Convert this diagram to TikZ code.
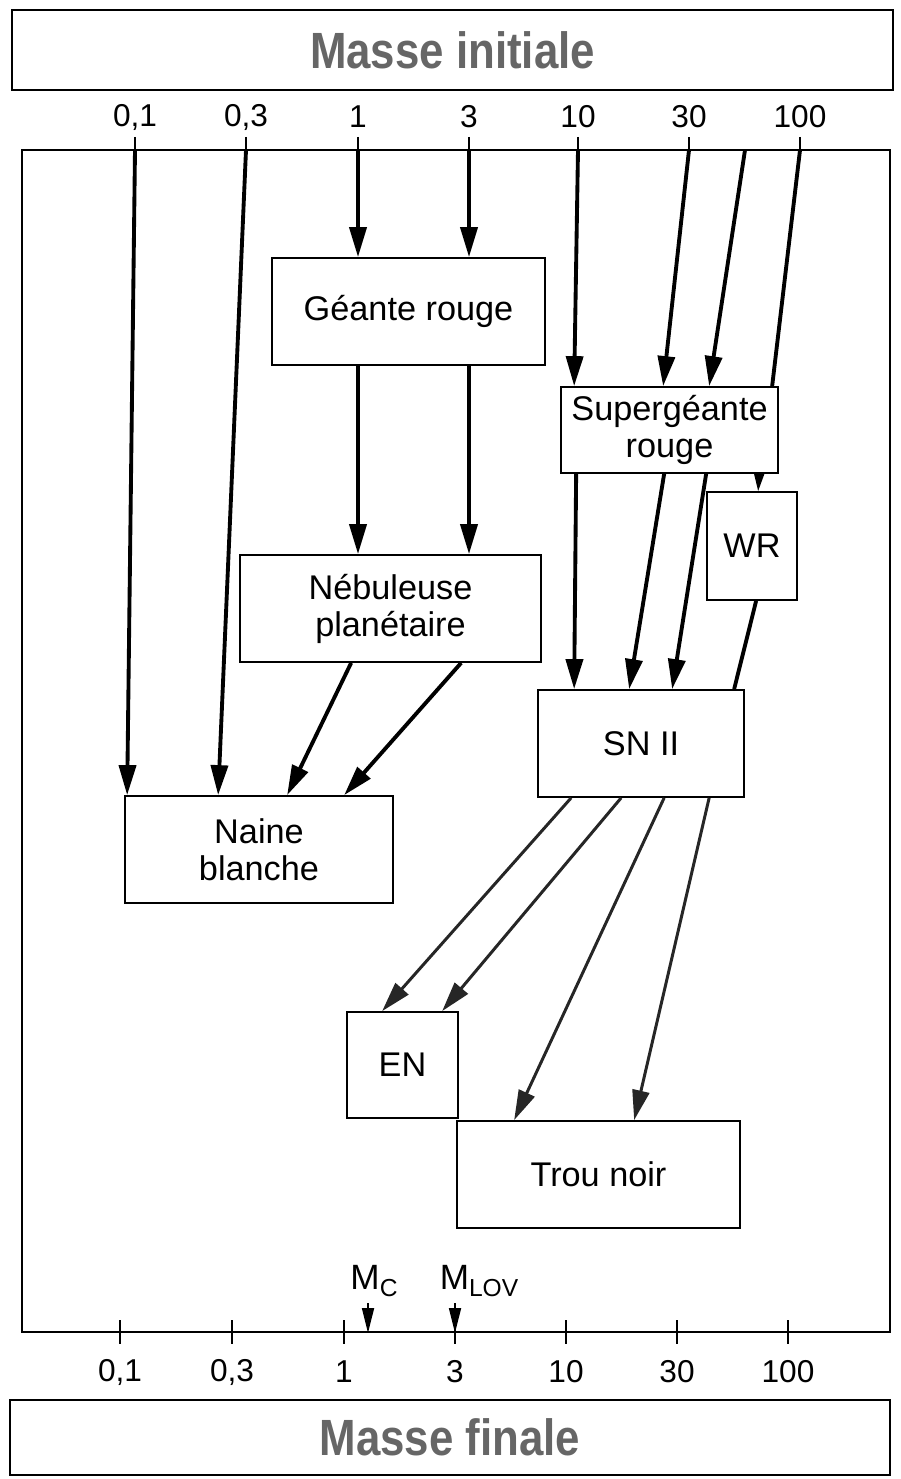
\documentclass[tikz,border=0pt]{standalone}
\usepackage{fontspec}
\usepackage{graphicx}
\setmainfont{Liberation Sans}
\usetikzlibrary{arrows.meta, positioning, calc}
\newcommand{\lowsub}[1]{\raisebox{-0.35ex}{\fontsize{14}{16}\selectfont #1}}
\tikzset{box/.style={draw, line width=1pt, inner sep=0pt, align=center, font=\fontsize{19.5}{21}\selectfont},
  boxsize/.style 2 args={minimum width=#1cm, minimum height=#2cm},
  titlebox/.style={draw, line width=1pt, inner sep=0pt, font=\fontsize{29}{32}\selectfont\bfseries, text=black!60},
  axislabel/.style={inner sep=0pt, font=\fontsize{18}{20}\selectfont},
  limitlabel/.style={inner sep=0pt, font=\fontsize{20}{22}\selectfont},
  tick/.style={line width=0.8pt},
  flow/.style={line width=2.2pt, -{Triangle[length=6mm, width=3.4mm]}},
  thinflow/.style={line width=1.7pt, draw=black!85, fill=black!85, -{Triangle[length=6mm, width=3.4mm]}},
  plain/.style={line width=2.2pt},
  smallflow/.style={line width=1pt, -{Triangle[length=5mm, width=2.4mm]}},
  tinyflow/.style={line width=1pt, -{Triangle[length=3.5mm, width=2mm]}}}

\begin{document}
\begin{tikzpicture}[x=0.02cm, y=-0.02cm]
	\useasboundingbox (0,0) rectangle (901,1479);
	% titles
	\node[titlebox, boxsize={17.62}{1.6}] (initiale) at (452.5,50) {\scalebox{0.86}[1]{Masse initiale}};
	\node[titlebox, boxsize={17.6}{1.5}] (finale) at (450,1437.5) {\scalebox{0.86}[1]{Masse finale}};
	% axes
	\draw[line width=1pt] (22,150) rectangle (890,1332);
	\foreach \x/\lab [count=\i] in {135/{0,1}, 246/{0,3}, 358/1, 469/3, 578/10, 689/30, 800/100} {
		\draw[tick] (\x,137) -- (\x,156);
		\coordinate (mi\i) at (\x,150);
		\node[axislabel] (li\i) at (\x,117) {\lab};
	}
	\coordinate (mi8) at (745,150);
	\foreach \x/\lab [count=\i] in {120/{0,1}, 232/{0,3}, 344/1, 455/3, 566/10, 677/30, 788/100} {
		\draw[tick] (\x,1320) -- (\x,1344);
		\node[axislabel] (lf\i) at (\x,1372) {\lab};
	}
	% stades
	\node[box, boxsize={5.46}{2.14}] (geante) at (408.5,311.5) {Géante rouge};
	\node[box, boxsize={4.34}{1.72}] (superg) at (669.5,430) {Supergéante\\rouge};
	\node[box, boxsize={1.80}{2.16}] (wr) at (752,546) {WR};
	\node[box, boxsize={6.02}{2.14}] (nebuleuse) at (390.5,608.5) {Nébuleuse\\planétaire};
	\node[box, boxsize={4.12}{2.14}] (sn) at (641,743.5) {SN II};
	\node[box, boxsize={5.36}{2.14}] (naine) at (259,849.5) {Naine\\blanche};
	\node[box, boxsize={2.22}{2.12}] (en) at (402.5,1065) {EN};
	\node[box, boxsize={5.66}{2.14}] (trou) at (598.5,1174.5) {Trou noir};
	% evolution
	\draw[flow] (mi1) -- ($(naine.north west)+(3,0)$);
	\draw[flow] (mi2) -- ($(naine.north west)+(94,0)$);
	\draw[flow] (mi3) -- (mi3 |- geante.north);
	\draw[flow] (mi4) -- (mi4 |- geante.north);
	\draw[flow] (geante.south -| mi3) -- (nebuleuse.north -| mi3);
	\draw[flow] (geante.south -| mi4) -- (nebuleuse.north -| mi4);
	\draw[flow] ($(nebuleuse.south west)+(112,0)$) -- ($(naine.north west)+(163,0)$);
	\draw[flow] ($(nebuleuse.south west)+(222,0)$) -- ($(naine.north west)+(220,0)$);
	\draw[flow] (mi5) -- ($(superg.north west)+(14,0)$);
	\draw[flow] (mi6) -- ($(superg.north west)+(103,0)$);
	\draw[flow] (mi8) -- ($(superg.north west)+(149,0)$);
	\draw[plain] (mi7) -- ($(superg.north west)+(212,0)$);
	\draw[tinyflow] ($(superg.south west)+(199,0)$) -- ($(wr.north west)+(52,0)$);
	\draw[flow] ($(superg.south west)+(16,0)$) -- ($(sn.north west)+(37,0)$);
	\draw[flow] ($(superg.south west)+(104,0)$) -- ($(sn.north west)+(92,0)$);
	\draw[flow] ($(superg.south west)+(146,0)$) -- ($(sn.north west)+(135,0)$);
	\draw[plain] ($(wr.south west)+(50,0)$) -- ($(sn.north west)+(197,0)$);
	\draw[thinflow] ($(sn.south west)+(34,0)$) -- ($(en.north west)+(36,0)$);
	\draw[thinflow] ($(sn.south west)+(84,0)$) -- ($(en.north west)+(96,0)$);
	\draw[thinflow] ($(sn.south west)+(127,0)$) -- ($(trou.north west)+(58,0)$);
	\draw[thinflow] ($(sn.south west)+(172,0)$) -- ($(trou.north west)+(178,0)$);
	% masses limites
	\coordinate (mcpt) at (368,1333);
	\coordinate (mlovpt) at (455,1333);
	\node[limitlabel] (mc) at (374,1281) {M\lowsub{C}};
	\node[limitlabel] (mlov) at (479,1281) {M\lowsub{LOV}};
	\draw[smallflow] ($(mcpt)+(0,-30)$) -- (mcpt);
	\draw[smallflow] ($(mlovpt)+(0,-30)$) -- (mlovpt);
\end{tikzpicture}
\end{document}
